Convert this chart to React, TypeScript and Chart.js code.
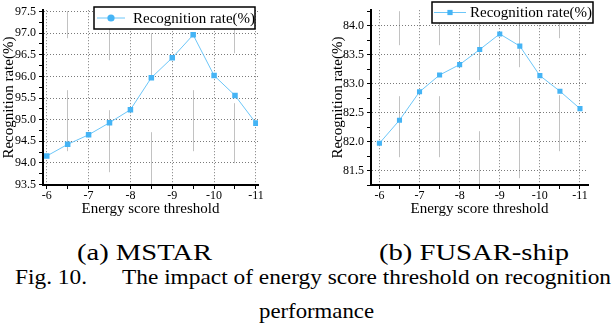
import React, { useEffect, useLayoutEffect, useRef } from "react";
import { Chart, registerables } from "chart.js";

Chart.register(...registerables);

// ---------- data ----------
const thresholds = [-6, -6.5, -7, -7.5, -8, -8.5, -9, -9.5, -10, -10.5, -11];
const mstarRates = [94.16, 94.43, 94.65, 94.93, 95.23, 95.97, 96.43, 96.96, 96.02, 95.56, 94.92];
const fusarRates = [81.97, 82.37, 82.86, 83.15, 83.33, 83.59, 83.86, 83.65, 83.14, 82.87, 82.57];
const xTickValues = [-6, -6.5, -7, -7.5, -8, -8.5, -9, -9.5, -10, -10.5, -11];
const mstarYTicks = [93.5, 93.75, 94.0, 94.25, 94.5, 94.75, 95.0, 95.25, 95.5, 95.75, 96.0, 96.25, 96.5, 96.75, 97.0, 97.25, 97.5];
const fusarYTicks = [81.25, 81.5, 81.75, 82.0, 82.25, 82.5, 82.75, 83.0, 83.25, 83.5, 83.75, 84.0, 84.25];
const seriesLabel = "Recognition rate(%)";
const xTitle = "Energy score threshold";
const yTitle = "Recognition rate(%)";
const captionA = "(a) MSTAR";
const captionB = "(b) FUSAR-ship";
const figCaptionLine1 = "Fig. 10.\u2003\u2002The impact of energy score threshold on recognition";
const figCaptionLine2 = "performance";

const SERIF = '"Liberation Serif"';
const LINE_COLOR = "#6cc6f8";
const MARKER_COLOR = "#45b4f5";
const GRID_COLOR = "#7a7a7a";
const MINOR_LINE_COLOR = "#c2c2c2";

// style of the faint grey half-step lines: visible pieces [from, to] in px below the plot top
type Pieces = number[][];

type PanelCfg = {
  data: number[];
  yTicks: number[];
  yMin: number;
  yMax: number;
  xMin: number;
  xMax: number;
  padLeft: number;
  padRight: number;
  yAxisWidth: number;
  pointRadius: number;
  legend: { x: number; y: number; w: number; h: number; lx1: number; lx2: number; textX: number; marker: "circle" | "rect" };
  minorPieces: Record<string, Pieces>;
};

const isMajorX = (v: number) => Math.abs(v - Math.round(v)) < 1e-6;
const isMajorY = (v: number) => Math.abs(v * 2 - Math.round(v * 2)) < 1e-6;

// turn visible pieces into a canvas dash array that starts with an empty dash
function piecesToDash(pieces: Pieces): number[] {
  const dash: number[] = [0];
  let pos = 0;
  for (const [a, b] of pieces) {
    dash.push(a - pos, b - a);
    pos = b;
  }
  dash.push(2000);
  return dash;
}

const legendBoxPlugin = {
  id: "legendBox",
  afterDraw(chart: any, _args: any, opts: any) {
    if (!opts || opts.w == null) return;
    const { ctx } = chart;
    const { x, y, w, h, lx1, lx2, textX, marker } = opts;
    const cy = y + h / 2;
    ctx.save();
    ctx.fillStyle = "#fff";
    ctx.fillRect(x, y, w, h);
    ctx.strokeStyle = "#000";
    ctx.lineWidth = 1.5;
    ctx.strokeRect(x, y, w, h);
    ctx.strokeStyle = LINE_COLOR;
    ctx.lineWidth = 1;
    ctx.beginPath();
    ctx.moveTo(lx1, cy);
    ctx.lineTo(lx2, cy);
    ctx.stroke();
    ctx.fillStyle = MARKER_COLOR;
    const mx = (lx1 + lx2) / 2;
    if (marker === "circle") {
      ctx.beginPath();
      ctx.arc(mx, cy, 3.6, 0, Math.PI * 2);
      ctx.fill();
    } else {
      ctx.fillRect(mx - 2.6, cy - 2.6, 5.2, 5.2);
    }
    ctx.fillStyle = "#000";
    ctx.font = `15px ${SERIF}`;
    ctx.textBaseline = "middle";
    ctx.textAlign = "left";
    ctx.fillText(chart.data.datasets[0].label, textX, cy + 1);
    ctx.restore();
  },
};

function makeConfig(p: PanelCfg): any {
  const tickVal = (c: any) => (c && c.tick ? Number(c.tick.value) : NaN);
  return {
    type: "line",
    data: {
      datasets: [
        {
          label: seriesLabel,
          data: thresholds.map((t, i) => ({ x: t, y: p.data[i] })),
          borderColor: LINE_COLOR,
          borderWidth: 1,
          backgroundColor: MARKER_COLOR,
          pointStyle: "rect",
          pointRadius: p.pointRadius,
          pointBorderWidth: 0,
          pointBackgroundColor: MARKER_COLOR,
          pointBorderColor: MARKER_COLOR,
          tension: 0,
          fill: false,
        },
      ],
    },
    options: {
      animation: false,
      responsive: false,
      maintainAspectRatio: false,
      events: [],
      layout: { padding: { top: 10, right: p.padRight, left: p.padLeft, bottom: 0 } },
      plugins: {
        legend: { display: false },
        tooltip: { enabled: false },
        legendBox: p.legend,
      },
      scales: {
        x: {
          type: "linear",
          position: "bottom",
          reverse: true,
          min: p.xMin,
          max: p.xMax,
          afterBuildTicks: (s: any) => {
            s.ticks = xTickValues.map((v) => ({ value: v }));
          },
          ticks: {
            callback: (v: any) => (isMajorX(Number(v)) ? String(v) : ""),
            font: { family: SERIF, size: 12 },
            color: "#000",
            padding: 0,
            maxRotation: 0,
            autoSkip: false,
          },
          grid: {
            color: (c: any) => {
              const v = tickVal(c);
              if (isMajorX(v)) return GRID_COLOR;
              return p.minorPieces[String(v)] ? MINOR_LINE_COLOR : "rgba(0,0,0,0)";
            },
            lineWidth: 1,
            tickColor: "#000",
            tickLength: 4,
            tickWidth: 1,
          },
          border: {
            color: "#000",
            width: 2,
            dash: (c: any) => {
              const v = tickVal(c);
              if (isMajorX(v) || !p.minorPieces[String(v)]) return [1, 2];
              return piecesToDash(p.minorPieces[String(v)]);
            },
          },
          title: {
            display: true,
            text: xTitle,
            font: { family: SERIF, size: 15 },
            color: "#000",
            padding: { top: 0, bottom: 0 },
          },
          afterFit: (s: any) => {
            s.height = 33;
          },
        },
        y: {
          type: "linear",
          position: "left",
          min: p.yMin,
          max: p.yMax,
          afterBuildTicks: (s: any) => {
            s.ticks = p.yTicks.map((v) => ({ value: v }));
          },
          ticks: {
            callback: (v: any) => (isMajorY(Number(v)) ? Number(v).toFixed(1) : ""),
            font: { family: SERIF, size: 12 },
            color: "#000",
            padding: 3,
            autoSkip: false,
          },
          grid: {
            color: (c: any) => (isMajorY(tickVal(c)) ? GRID_COLOR : "rgba(0,0,0,0)"),
            lineWidth: 1,
            tickColor: "#000",
            tickLength: 4,
            tickWidth: 1,
          },
          border: { color: "#000", width: 2, dash: [1, 2] },
          title: {
            display: true,
            text: yTitle,
            font: { family: SERIF, size: 15 },
            color: "#000",
            padding: { top: 0, bottom: 0 },
          },
          afterFit: (s: any) => {
            s.width = p.yAxisWidth;
          },
        },
      },
    },
    plugins: [legendBoxPlugin],
  };
}

function ChartPanel({ cfg, left, width, height }: { cfg: PanelCfg; left: number; width: number; height: number }) {
  const ref = useRef<HTMLCanvasElement | null>(null);
  useEffect(() => {
    if (!ref.current) return;
    const chart = new Chart(ref.current, makeConfig(cfg));
    return () => chart.destroy();
  }, [cfg]);
  return (
    <canvas
      ref={ref}
      width={width}
      height={height}
      style={{ position: "absolute", left, top: 0, width, height }}
    />
  );
}

function Caption({ text, left, baseline, width, size }: { text: string; left: number; baseline: number; width: number; size: number }) {
  const ref = useRef<HTMLSpanElement | null>(null);
  useLayoutEffect(() => {
    const el = ref.current;
    if (!el) return;
    el.style.transform = "none";
    const w = el.getBoundingClientRect().width;
    if (w > 0) el.style.transform = `scaleX(${width / w})`;
  }, [text, width]);
  return (
    <span
      ref={ref}
      style={{
        position: "absolute",
        left,
        top: baseline - size * 0.8375,
        fontFamily: SERIF,
        fontSize: size,
        lineHeight: `${size}px`,
        whiteSpace: "pre",
        color: "#000",
        transformOrigin: "left top",
        display: "inline-block",
      }}
    >
      {text}
    </span>
  );
}

const leftCfg: PanelCfg = {
  data: mstarRates,
  yTicks: mstarYTicks,
  yMin: 93.49,
  yMax: 97.53,
  xMin: -11.05,
  xMax: -5.91,
  padLeft: 0,
  padRight: 42,
  yAxisWidth: 43,
  pointRadius: 3.9,
  legend: { x: 94, y: 7, w: 161, h: 22, lx1: 97, lx2: 125, textX: 133, marker: "circle" },
  minorPieces: {
    "-6.5": [[1, 28], [80, 141]],
    "-7.5": [[1, 50], [100, 162]],
    "-8.5": [[23, 67], [122, 175]],
    "-9.5": [[80, 141]],
    "-10.5": [[1, 43], [93, 153]],
  },
};

const rightCfg: PanelCfg = {
  data: fusarRates,
  yTicks: fusarYTicks,
  yMin: 81.25,
  yMax: 84.27,
  xMin: -11.2,
  xMax: -5.79,
  padLeft: 29,
  padRight: 26,
  yAxisWidth: 42,
  pointRadius: 3.6,
  legend: { x: 132, y: 2, w: 161, h: 21, lx1: 134, lx2: 166, textX: 170, marker: "rect" },
  minorPieces: {
    "-6.5": [[1, 35], [86, 147]],
    "-7.5": [[1, 35], [86, 147]],
    "-8.5": [[1, 70], [121, 175]],
    "-9.5": [[1, 57], [107, 168]],
    "-10.5": [[1, 28], [85, 141]],
  },
};

export default function App() {
  return (
    <div
      style={{
        position: "absolute",
        left: 0,
        top: 0,
        width: 614,
        height: 328,
        background: "#fff",
        overflow: "hidden",
      }}
    >
      <ChartPanel cfg={leftCfg} left={0} width={300} height={218} />
      <ChartPanel cfg={rightCfg} left={300} width={314} height={218} />
      <Caption text={captionA} left={77} baseline={260} width={135} size={23} />
      <Caption text={captionB} left={379} baseline={260} width={190} size={23} />
      <Caption text={figCaptionLine1} left={15} baseline={285} width={596} size={21} />
      <Caption text={figCaptionLine2} left={259} baseline={319} width={115} size={21} />
    </div>
  );
}
